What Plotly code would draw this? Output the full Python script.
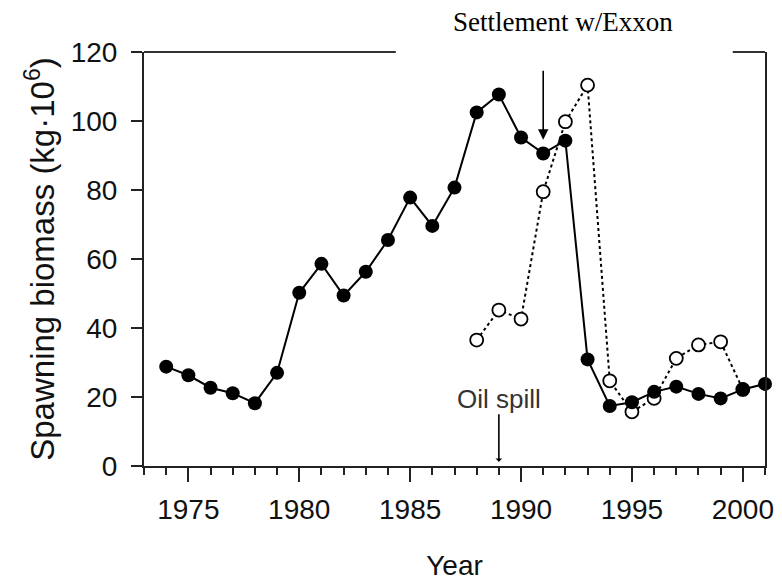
import plotly.graph_objects as go

# Data
years_filled = list(range(1974, 2002))
biomass_filled = [28.8, 26.3, 22.7, 21.1, 18.2, 27.0, 50.2, 58.6, 49.4, 56.3,
                  65.5, 77.8, 69.6, 80.7, 102.5, 107.7, 95.2, 90.6, 94.3, 30.9,
                  17.4, 18.5, 21.5, 23.0, 20.9, 19.6, 22.2, 23.8]
years_open = list(range(1988, 2001))
biomass_open = [36.5, 45.2, 42.6, 79.5, 99.8, 110.4, 24.7, 15.7, 19.6, 31.2,
                35.1, 36.0, 22.2]
x_tick_vals = [1975, 1980, 1985, 1990, 1995, 2000]
y_tick_vals = [0, 20, 40, 60, 80, 100, 120]

settle_year, settle_val = 1991, 90.6
spill_year = 1989

SANS = "Liberation Sans, Arial, Helvetica, sans-serif"
SERIF = "Liberation Serif, Times New Roman, serif"

fig = go.Figure()
fig.add_trace(go.Scatter(
    x=years_open, y=biomass_open, mode="lines+markers",
    line=dict(color="black", width=2, dash="dot"),
    marker=dict(symbol="circle", size=13, color="white",
                line=dict(color="black", width=1.8)),
    showlegend=False, cliponaxis=False))
fig.add_trace(go.Scatter(
    x=years_filled, y=biomass_filled, mode="lines+markers",
    line=dict(color="black", width=2),
    marker=dict(symbol="circle", size=14, color="black"),
    showlegend=False, cliponaxis=False))

# Top border with a gap for the annotation
fig.add_shape(type="line", xref="paper", yref="paper", x0=0, x1=0.4055, y0=1, y1=1,
              line=dict(color="#333", width=2))
fig.add_shape(type="line", xref="paper", yref="paper", x0=0.948, x1=1, y0=1, y1=1,
              line=dict(color="#333", width=2))

# Settlement arrow + text
fig.add_annotation(x=settle_year, y=settle_val + 4, ax=settle_year, ay=115,
                   xref="x", yref="y", axref="x", ayref="y",
                   showarrow=True, arrowhead=2, arrowsize=1.3, arrowwidth=1.6,
                   arrowcolor="black", text="")
fig.add_annotation(x=1991.9, y=1.072, xref="x", yref="paper", showarrow=False,
                   yanchor="middle", xanchor="center",
                   text="Settlement w/Exxon",
                   font=dict(family=SERIF, size=27, color="black"))

# Oil spill arrow + text
fig.add_annotation(x=spill_year, y=1.2, ax=spill_year, ay=15.4,
                   xref="x", yref="y", axref="x", ayref="y",
                   showarrow=True, arrowhead=1, arrowsize=0.7, arrowwidth=1.6,
                   arrowcolor="black", text="")
fig.add_annotation(x=spill_year, y=19.3, xref="x", yref="y", showarrow=False,
                   yanchor="middle", xanchor="center",
                   text="Oil spill",
                   font=dict(family=SANS, size=26, color="#333"))

fig.update_xaxes(
    range=[1973, 2001], tickvals=x_tick_vals, ticks="outside", ticklen=14,
    tickwidth=2, tickcolor="#222", showline=True, linecolor="#222", linewidth=2,
    showgrid=False, zeroline=False, mirror=False,
    minor=dict(dtick=1, tick0=1973, ticks="outside", ticklen=7, tickwidth=2,
               tickcolor="#222", showgrid=False),
    tickfont=dict(family=SANS, size=28, color="#111"),
    ticklabelstandoff=3,
    title=dict(text="Year", font=dict(family=SANS, size=28, color="#111"),
               standoff=32))
fig.update_yaxes(
    range=[0, 120], tickvals=y_tick_vals, ticks="outside", ticklen=11,
    tickwidth=2, tickcolor="#222", showline=True, linecolor="#222", linewidth=2,
    showgrid=False, zeroline=False, mirror=True,
    tickfont=dict(family=SANS, size=28, color="#111"),
    ticklabelstandoff=8,
    title=dict(text="Spawning biomass (kg·10<sup>6</sup>)",
               font=dict(family=SANS, size=33, color="#111"), standoff=6))

# Page body adds an 8px offset; compensate so the plot area lands at
# x 144-765, y 52-466 in the 782x584 window.
fig.update_layout(
    width=774, height=576,
    margin=dict(l=136, r=17, t=44, b=118, autoexpand=False),
    plot_bgcolor="white", paper_bgcolor="white")

fig.write_html("out.html")
